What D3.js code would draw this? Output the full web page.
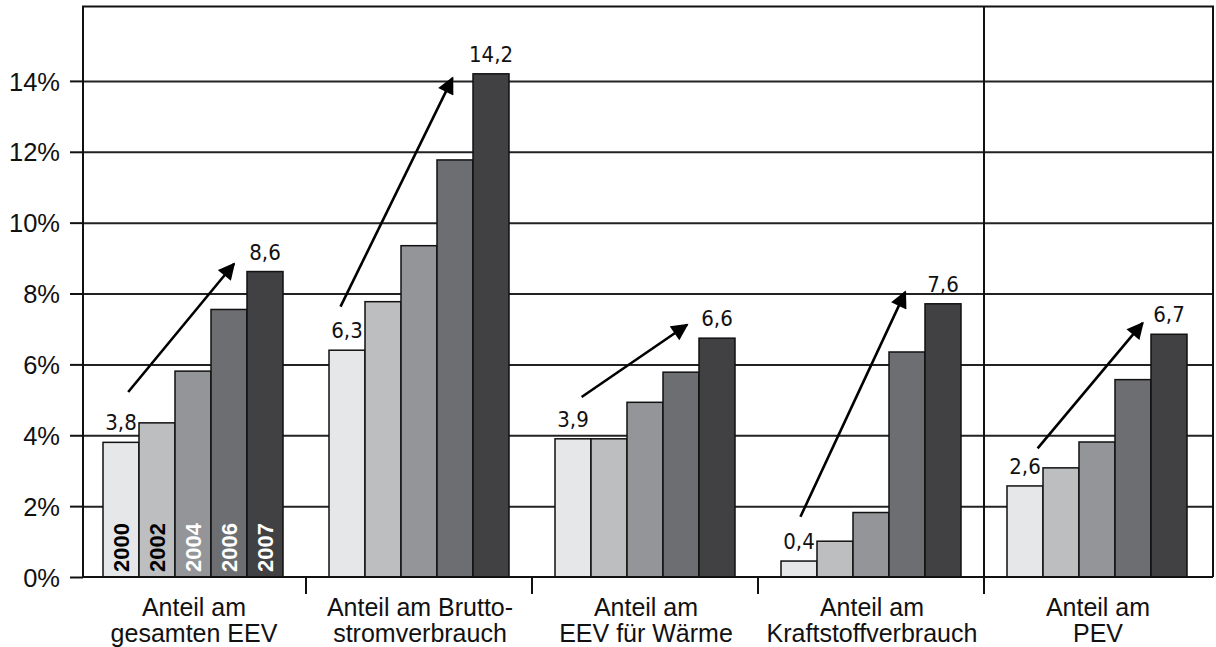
<!DOCTYPE html>
<html>
<head>
<meta charset="utf-8">
<script src="https://cdn.jsdelivr.net/npm/d3@7/dist/d3.min.js"></script>
<style>
  body { margin: 0; background: #fff; }
  svg { display: block; }
  .axis text { font-family: "Liberation Sans", Arial, Helvetica, sans-serif; font-size: 25.5px; fill: #111; }
  .axis path, .axis line { stroke: #111; stroke-width: 2; }
  .grid line { stroke: #222; stroke-width: 2; }
  .grid path { display: none; }
  .value { font-family: "DejaVu Sans Condensed", sans-serif; font-stretch: condensed; font-size: 22px; fill: #111; text-anchor: middle; }
  .year { font-family: "Liberation Sans", Arial, Helvetica, sans-serif; font-weight: bold; font-size: 22px; }
  .cat { font-family: "Liberation Sans", Arial, Helvetica, sans-serif; font-size: 25px; fill: #111; text-anchor: middle; }
</style>
</head>
<body>
<svg width="1216" height="647"></svg>
<script>
// categories (two text lines each)
const categories = ["EEV", "Strom", "Waerme", "Kraftstoff", "PEV"];
const categoryLines = [
  ["Anteil am", "gesamten EEV"],
  ["Anteil am Brutto-", "stromverbrauch"],
  ["Anteil am", "EEV für Wärme"],
  ["Anteil am", "Kraftstoffverbrauch"],
  ["Anteil am", "PEV"]
];
const years = ["2000", "2002", "2004", "2006", "2007"];

// bar values (%) per year, one entry per category
const v2000 = [3.8, 6.4, 3.9, 0.45, 2.57];
const v2002 = [4.35, 7.77, 3.9, 1.01, 3.08];
const v2004 = [5.81, 9.35, 4.93, 1.82, 3.81];
const v2006 = [7.55, 11.77, 5.78, 6.35, 5.57];
const v2007 = [8.62, 14.2, 6.74, 7.71, 6.85];

// printed labels at first and last bar
const startLabels = ["3,8", "6,3", "3,9", "0,4", "2,6"];
const endLabels = ["8,6", "14,2", "6,6", "7,6", "6,7"];

// trend arrows: [bar position, value] for start and tip
const arrowFrom = [[0.70, 5.22], [0.32, 7.63], [0.74, 5.08], [0.54, 1.70], [0.85, 3.63]];
const arrowTo = [[3.64, 8.84], [3.43, 14.08], [3.67, 7.12], [3.45, 8.04], [3.77, 7.17]];

const yTicks = [0, 2, 4, 6, 8, 10, 12, 14];
const barColours = ["#e6e7e9", "#bdbec0", "#939598", "#6d6e71", "#414042"];
const yearTextColours = ["#000", "#000", "#fff", "#fff", "#fff"];

const series = [v2000, v2002, v2004, v2006, v2007];

const svg = d3.select("svg"),
    mLeft = 83, mRight = 1213, mTop = 6.5, mBottom = 577;

const x0 = d3.scaleBand().domain(categories).range([mLeft, mRight]);
const x1 = d3.scaleBand().domain(years).range([20, 200]);
const y = d3.scaleLinear().domain([0, 16.1]).range([mBottom, mTop]);

// bar position (in bar widths) inside a group -> pixel
function xPos(cat, b) { return x0(cat) + x1.range()[0] + b * x1.bandwidth(); }

// gridlines
svg.append("g")
    .attr("class", "grid")
    .attr("transform", "translate(" + mLeft + ",0)")
    .call(d3.axisLeft(y).tickValues(yTicks.slice(1)).tickSize(-(mRight - mLeft)).tickFormat(""));

// bars
const group = svg.selectAll(".group")
  .data(categories)
  .enter().append("g")
    .attr("class", "group")
    .attr("transform", function(d) { return "translate(" + x0(d) + ",0)"; });

group.selectAll("rect")
  .data(function(d, i) { return years.map(function(yr, j) { return {year: yr, j: j, value: series[j][i]}; }); })
  .enter().append("rect")
    .attr("x", function(d) { return x1(d.year); })
    .attr("y", function(d) { return y(d.value); })
    .attr("width", x1.bandwidth())
    .attr("height", function(d) { return y(0) - y(d.value); })
    .style("fill", function(d) { return barColours[d.j]; })
    .style("stroke", "#111")
    .style("stroke-width", 1.5);

// year labels inside the first group
svg.append("g").selectAll("text")
  .data(years)
  .enter().append("text")
    .attr("class", "year")
    .attr("transform", function(d) {
      return "translate(" + (x0(categories[0]) + x1(d) + x1.bandwidth() / 2 + 8) + "," + (y(0) - 5) + ") rotate(-90)";
    })
    .style("fill", function(d, i) { return yearTextColours[i]; })
    .text(function(d) { return d; });

// frame
svg.append("path")
    .attr("d", "M" + mLeft + "," + mBottom + "V" + mTop + "H" + mRight + "V" + mBottom)
    .style("fill", "none").style("stroke", "#111").style("stroke-width", 2);

// separator between Kraftstoff and PEV (full height)
svg.append("line")
    .attr("x1", x0(categories[4]) - 3).attr("x2", x0(categories[4]) - 3)
    .attr("y1", mTop).attr("y2", mBottom + 17)
    .style("stroke", "#111").style("stroke-width", 2);

// small separators below the axis
svg.append("g").selectAll("line")
  .data(categories.slice(1, 4))
  .enter().append("line")
    .attr("x1", function(d) { return x0(d) - 3; }).attr("x2", function(d) { return x0(d) - 3; })
    .attr("y1", mBottom).attr("y2", mBottom + 17)
    .style("stroke", "#111").style("stroke-width", 2);

// y axis
const yAxis = svg.append("g")
    .attr("class", "axis")
    .attr("transform", "translate(" + mLeft + ",0)")
    .call(d3.axisLeft(y).tickValues(yTicks).tickSize(13).tickPadding(10).tickFormat(function(d) { return d + "%"; }));
yAxis.select(".domain").remove();
yAxis.selectAll("text").attr("dy", "0.36em");

// x baseline
svg.append("line")
    .attr("x1", mLeft).attr("x2", mRight).attr("y1", mBottom).attr("y2", mBottom)
    .style("stroke", "#111").style("stroke-width", 2);

// category labels
const cat = svg.append("g").selectAll("text")
  .data(categories)
  .enter().append("text")
    .attr("class", "cat")
    .attr("x", function(d) { return x0(d) + x0.bandwidth() / 2 - 2; })
    .attr("y", 616);
cat.selectAll("tspan")
  .data(function(d, i) { return categoryLines[i]; })
  .enter().append("tspan")
    .attr("x", function() { return d3.select(this.parentNode).attr("x"); })
    .attr("dy", function(d, i) { return i === 0 ? 0 : 25.5; })
    .text(function(d) { return d; });

// value labels
svg.append("g").selectAll("text")
  .data(categories)
  .enter().append("text")
    .attr("class", "value")
    .attr("x", function(d) { return xPos(d, 0.5); })
    .attr("y", function(d, i) { return y(v2000[i]) - 12; })
    .text(function(d, i) { return startLabels[i]; });

svg.append("g").selectAll("text")
  .data(categories)
  .enter().append("text")
    .attr("class", "value")
    .attr("x", function(d) { return xPos(d, 4.5); })
    .attr("y", function(d, i) { return y(v2007[i]) - 12; })
    .text(function(d, i) { return endLabels[i]; });

// arrows
svg.append("defs").append("marker")
    .attr("id", "head")
    .attr("viewBox", "0 0 10 10")
    .attr("refX", 9).attr("refY", 5)
    .attr("markerWidth", 7).attr("markerHeight", 6.5)
    .attr("markerUnits", "strokeWidth")
    .attr("orient", "auto")
  .append("path")
    .attr("d", "M0,0L10,5L0,10Z")
    .style("fill", "#000");

svg.append("g").selectAll("line")
  .data(categories)
  .enter().append("line")
    .attr("x1", function(d, i) { return xPos(d, arrowFrom[i][0]); })
    .attr("y1", function(d, i) { return y(arrowFrom[i][1]); })
    .attr("x2", function(d, i) { return xPos(d, arrowTo[i][0]); })
    .attr("y2", function(d, i) { return y(arrowTo[i][1]); })
    .style("stroke", "#000")
    .style("stroke-width", 2.6)
    .attr("marker-end", "url(#head)");
</script>
</body>
</html>
